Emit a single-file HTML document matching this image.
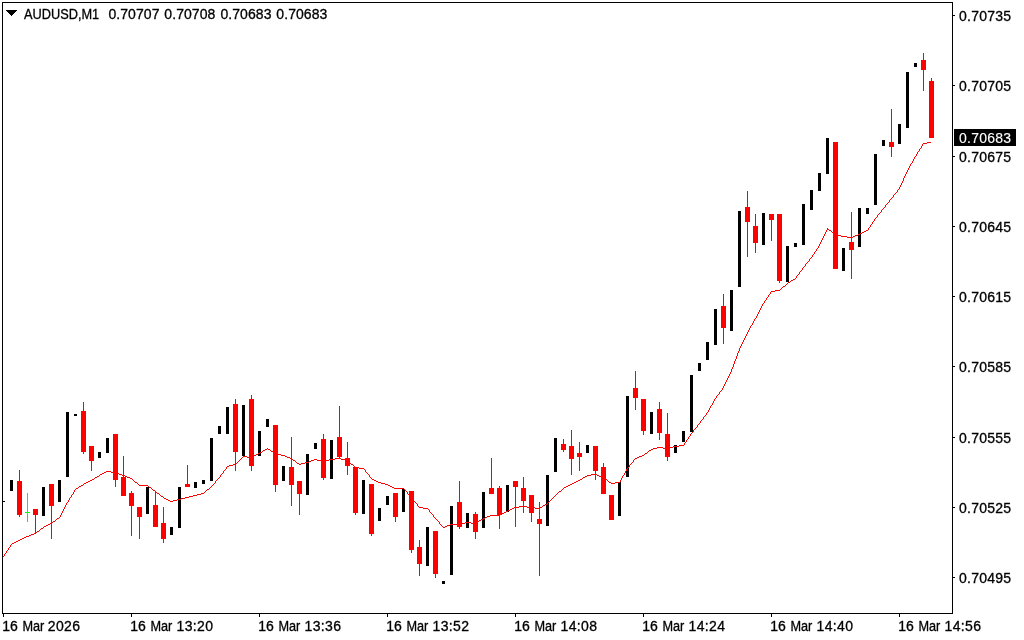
<!DOCTYPE html>
<html lang="en"><head><meta charset="utf-8"><title>AUDUSD,M1</title>
<style>
html,body{margin:0;padding:0;background:#fff;}
body{width:1024px;height:640px;overflow:hidden;position:relative;}
svg{position:absolute;left:0;top:0;display:block;}
text{font-family:"Liberation Sans",sans-serif;font-size:14px;letter-spacing:0px;fill:#000;stroke:#000;stroke-width:0.3px;}
.g{shape-rendering:crispEdges;}
</style></head><body>
<svg width="1024" height="640" viewBox="0 0 1024 640">
<rect x="0" y="0" width="1024" height="640" fill="#fff"/>
<g class="g">
<rect x="10" y="480" width="3" height="11" fill="#000"/>
<rect x="19" y="470" width="1" height="47" fill="#f00"/>
<rect x="17" y="481" width="5" height="34" fill="#f00"/>
<rect x="35" y="509" width="1" height="24" fill="#f00"/>
<rect x="33" y="509" width="5" height="6" fill="#f00"/>
<rect x="42" y="487" width="3" height="29" fill="#000"/>
<rect x="51" y="484" width="1" height="55" fill="#f00"/>
<rect x="49" y="484" width="5" height="22" fill="#f00"/>
<rect x="58" y="480" width="3" height="22" fill="#000"/>
<rect x="66" y="412" width="3" height="65" fill="#000"/>
<rect x="74" y="414" width="3" height="2" fill="#000"/>
<rect x="83" y="402" width="1" height="52" fill="#f00"/>
<rect x="81" y="411" width="5" height="41" fill="#f00"/>
<rect x="91" y="446" width="1" height="25" fill="#f00"/>
<rect x="89" y="446" width="5" height="15" fill="#f00"/>
<rect x="98" y="452" width="3" height="6" fill="#000"/>
<rect x="106" y="438" width="3" height="15" fill="#000"/>
<rect x="115" y="434" width="1" height="53" fill="#f00"/>
<rect x="113" y="434" width="5" height="46" fill="#f00"/>
<rect x="123" y="456" width="1" height="40" fill="#f00"/>
<rect x="121" y="477" width="5" height="19" fill="#f00"/>
<rect x="131" y="491" width="1" height="45" fill="#f00"/>
<rect x="129" y="493" width="5" height="13" fill="#f00"/>
<rect x="139" y="507" width="1" height="32" fill="#f00"/>
<rect x="137" y="507" width="5" height="10" fill="#f00"/>
<rect x="146" y="487" width="3" height="27" fill="#000"/>
<rect x="155" y="492" width="1" height="35" fill="#f00"/>
<rect x="153" y="505" width="5" height="22" fill="#f00"/>
<rect x="163" y="507" width="1" height="36" fill="#f00"/>
<rect x="161" y="523" width="5" height="16" fill="#f00"/>
<rect x="170" y="527" width="3" height="8" fill="#000"/>
<rect x="178" y="487" width="3" height="41" fill="#000"/>
<rect x="187" y="465" width="1" height="22" fill="#f00"/>
<rect x="185" y="484" width="5" height="3" fill="#f00"/>
<rect x="194" y="482" width="3" height="6" fill="#000"/>
<rect x="202" y="480" width="3" height="4" fill="#000"/>
<rect x="210" y="438" width="3" height="43" fill="#000"/>
<rect x="218" y="426" width="3" height="8" fill="#000"/>
<rect x="226" y="407" width="3" height="27" fill="#000"/>
<rect x="235" y="399" width="1" height="72" fill="#f00"/>
<rect x="233" y="404" width="5" height="48" fill="#f00"/>
<rect x="242" y="405" width="3" height="51" fill="#000"/>
<rect x="251" y="395" width="1" height="76" fill="#f00"/>
<rect x="249" y="399" width="5" height="67" fill="#f00"/>
<rect x="258" y="431" width="3" height="25" fill="#000"/>
<rect x="266" y="419" width="3" height="8" fill="#000"/>
<rect x="275" y="425" width="1" height="67" fill="#f00"/>
<rect x="273" y="425" width="5" height="60" fill="#f00"/>
<rect x="282" y="466" width="3" height="15" fill="#000"/>
<rect x="291" y="437" width="1" height="69" fill="#f00"/>
<rect x="289" y="467" width="5" height="18" fill="#f00"/>
<rect x="299" y="481" width="1" height="34" fill="#f00"/>
<rect x="297" y="481" width="5" height="13" fill="#f00"/>
<rect x="306" y="454" width="3" height="41" fill="#000"/>
<rect x="314" y="443" width="3" height="6" fill="#000"/>
<rect x="323" y="434" width="1" height="46" fill="#f00"/>
<rect x="321" y="439" width="5" height="39" fill="#f00"/>
<rect x="330" y="440" width="3" height="39" fill="#000"/>
<rect x="339" y="406" width="1" height="52" fill="#f00"/>
<rect x="337" y="437" width="5" height="20" fill="#f00"/>
<rect x="347" y="442" width="1" height="33" fill="#f00"/>
<rect x="345" y="458" width="5" height="8" fill="#f00"/>
<rect x="355" y="467" width="1" height="48" fill="#f00"/>
<rect x="353" y="467" width="5" height="46" fill="#f00"/>
<rect x="362" y="480" width="3" height="34" fill="#000"/>
<rect x="371" y="484" width="1" height="52" fill="#f00"/>
<rect x="369" y="484" width="5" height="50" fill="#f00"/>
<rect x="378" y="508" width="3" height="13" fill="#000"/>
<rect x="386" y="496" width="3" height="9" fill="#000"/>
<rect x="395" y="493" width="1" height="29" fill="#f00"/>
<rect x="393" y="493" width="5" height="24" fill="#f00"/>
<rect x="402" y="489" width="3" height="23" fill="#000"/>
<rect x="411" y="491" width="1" height="62" fill="#f00"/>
<rect x="409" y="491" width="5" height="59" fill="#f00"/>
<rect x="419" y="540" width="1" height="36" fill="#f00"/>
<rect x="417" y="547" width="5" height="17" fill="#f00"/>
<rect x="426" y="527" width="3" height="39" fill="#000"/>
<rect x="435" y="531" width="1" height="47" fill="#f00"/>
<rect x="433" y="531" width="5" height="43" fill="#f00"/>
<rect x="442" y="581" width="3" height="3" fill="#000"/>
<rect x="450" y="506" width="3" height="69" fill="#000"/>
<rect x="459" y="481" width="1" height="48" fill="#f00"/>
<rect x="457" y="502" width="5" height="25" fill="#f00"/>
<rect x="466" y="513" width="3" height="15" fill="#000"/>
<rect x="475" y="512" width="1" height="27" fill="#f00"/>
<rect x="473" y="514" width="5" height="18" fill="#f00"/>
<rect x="482" y="492" width="3" height="36" fill="#000"/>
<rect x="491" y="458" width="1" height="36" fill="#f00"/>
<rect x="489" y="488" width="5" height="6" fill="#f00"/>
<rect x="499" y="486" width="1" height="43" fill="#f00"/>
<rect x="497" y="488" width="5" height="27" fill="#f00"/>
<rect x="506" y="485" width="3" height="27" fill="#000"/>
<rect x="515" y="481" width="1" height="46" fill="#f00"/>
<rect x="513" y="481" width="5" height="6" fill="#f00"/>
<rect x="523" y="477" width="1" height="36" fill="#f00"/>
<rect x="521" y="488" width="5" height="13" fill="#f00"/>
<rect x="531" y="495" width="1" height="27" fill="#f00"/>
<rect x="529" y="495" width="5" height="18" fill="#f00"/>
<rect x="539" y="502" width="1" height="74" fill="#f00"/>
<rect x="537" y="519" width="5" height="5" fill="#f00"/>
<rect x="546" y="475" width="3" height="51" fill="#000"/>
<rect x="554" y="438" width="3" height="34" fill="#000"/>
<rect x="563" y="439" width="1" height="13" fill="#f00"/>
<rect x="561" y="444" width="5" height="6" fill="#f00"/>
<rect x="571" y="430" width="1" height="45" fill="#f00"/>
<rect x="569" y="446" width="5" height="13" fill="#f00"/>
<rect x="579" y="442" width="1" height="29" fill="#f00"/>
<rect x="577" y="453" width="5" height="4" fill="#f00"/>
<rect x="586" y="445" width="3" height="8" fill="#000"/>
<rect x="595" y="446" width="1" height="34" fill="#f00"/>
<rect x="593" y="446" width="5" height="25" fill="#f00"/>
<rect x="603" y="463" width="1" height="31" fill="#f00"/>
<rect x="601" y="467" width="5" height="27" fill="#f00"/>
<rect x="611" y="495" width="1" height="25" fill="#f00"/>
<rect x="609" y="495" width="5" height="25" fill="#f00"/>
<rect x="618" y="482" width="3" height="34" fill="#000"/>
<rect x="626" y="396" width="3" height="81" fill="#000"/>
<rect x="635" y="371" width="1" height="39" fill="#f00"/>
<rect x="633" y="388" width="5" height="10" fill="#f00"/>
<rect x="643" y="399" width="1" height="36" fill="#f00"/>
<rect x="641" y="399" width="5" height="32" fill="#f00"/>
<rect x="650" y="412" width="3" height="22" fill="#000"/>
<rect x="659" y="402" width="1" height="38" fill="#f00"/>
<rect x="657" y="409" width="5" height="24" fill="#f00"/>
<rect x="667" y="413" width="1" height="48" fill="#f00"/>
<rect x="665" y="434" width="5" height="23" fill="#f00"/>
<rect x="674" y="445" width="3" height="8" fill="#000"/>
<rect x="682" y="431" width="3" height="11" fill="#000"/>
<rect x="690" y="375" width="3" height="57" fill="#000"/>
<rect x="698" y="363" width="3" height="8" fill="#000"/>
<rect x="706" y="342" width="3" height="18" fill="#000"/>
<rect x="714" y="309" width="3" height="36" fill="#000"/>
<rect x="723" y="294" width="1" height="50" fill="#f00"/>
<rect x="721" y="306" width="5" height="22" fill="#f00"/>
<rect x="730" y="290" width="3" height="41" fill="#000"/>
<rect x="738" y="211" width="3" height="76" fill="#000"/>
<rect x="747" y="191" width="1" height="66" fill="#f00"/>
<rect x="745" y="207" width="5" height="15" fill="#f00"/>
<rect x="755" y="214" width="1" height="39" fill="#f00"/>
<rect x="753" y="226" width="5" height="17" fill="#f00"/>
<rect x="762" y="213" width="3" height="32" fill="#000"/>
<rect x="771" y="214" width="1" height="27" fill="#f00"/>
<rect x="769" y="214" width="5" height="6" fill="#f00"/>
<rect x="779" y="214" width="1" height="69" fill="#f00"/>
<rect x="777" y="214" width="5" height="67" fill="#f00"/>
<rect x="786" y="246" width="3" height="36" fill="#000"/>
<rect x="794" y="243" width="3" height="4" fill="#000"/>
<rect x="802" y="204" width="3" height="41" fill="#000"/>
<rect x="810" y="190" width="3" height="20" fill="#000"/>
<rect x="818" y="173" width="3" height="18" fill="#000"/>
<rect x="826" y="138" width="3" height="36" fill="#000"/>
<rect x="835" y="142" width="1" height="127" fill="#f00"/>
<rect x="833" y="142" width="5" height="127" fill="#f00"/>
<rect x="842" y="248" width="3" height="23" fill="#000"/>
<rect x="851" y="212" width="1" height="67" fill="#f00"/>
<rect x="849" y="242" width="5" height="8" fill="#f00"/>
<rect x="858" y="208" width="3" height="39" fill="#000"/>
<rect x="866" y="208" width="3" height="6" fill="#000"/>
<rect x="874" y="154" width="3" height="51" fill="#000"/>
<rect x="882" y="140" width="3" height="6" fill="#000"/>
<rect x="891" y="109" width="1" height="48" fill="#f00"/>
<rect x="889" y="142" width="5" height="5" fill="#f00"/>
<rect x="898" y="124" width="3" height="20" fill="#000"/>
<rect x="906" y="72" width="3" height="56" fill="#000"/>
<rect x="914" y="63" width="3" height="4" fill="#000"/>
<rect x="923" y="53" width="1" height="38" fill="#f00"/>
<rect x="921" y="60" width="5" height="10" fill="#f00"/>
<rect x="931" y="78" width="1" height="60" fill="#f00"/>
<rect x="929" y="81" width="5" height="57" fill="#f00"/>
<rect x="3" y="501" width="2" height="1" fill="#000"/>
<rect x="27" y="493" width="1" height="29" fill="#0f0"/>
<rect x="25" y="512" width="5" height="1" fill="#0f0"/>
</g>
<path class="g" d="M3 556.5h1M4.5 554v2M5 553.5h1M6.5 551v2M7 550.5h1M8.5 548v2M9 547.5h1M10.5 545v2M11 544.5h1M12 543.5h2M14 542.5h2M16 541.5h2M18 540.5h2M20 539.5h2M22 538.5h2M24 537.5h2M26 536.5h3M29 535.5h2M31 534.5h3M34 533.5h2M36 532.5h1M37 531.5h2M39 530.5h1M40 529.5h1M41 528.5h2M43 527.5h1M44 526.5h2M46 525.5h2M48 524.5h2M50 523.5h2M52 522.5h1M53 521.5h2M55 520.5h1M56 519.5h1M57 518.5h2M59 517.5h1M60.5 515v2M61.5 513v2M62.5 511v2M63.5 509v2M64.5 507v2M65.5 505v2M66.5 503v2M67 502.5h1M68.5 500v2M69.5 498v2M70 497.5h1M71.5 495v2M72 494.5h1M73.5 492v2M74.5 490v2M75 489.5h1M76 488.5h2M78 487.5h1M79 486.5h2M81 485.5h2M83 484.5h1M84 483.5h2M86 482.5h2M88 481.5h2M90 480.5h2M92 479.5h2M94 478.5h1M95 477.5h2M97 476.5h2M99 475.5h1M100 474.5h2M102 473.5h2M104 472.5h2M106 471.5h5M111 472.5h6M117 473.5h2M119 474.5h3M122 475.5h3M125 476.5h2M127 477.5h3M130 478.5h2M132 479.5h1M133 480.5h1M134 481.5h1M135 482.5h2M137 483.5h1M138 484.5h1M139 485.5h9M148 486.5h1M149 487.5h2M151 488.5h1M152 489.5h1M153 490.5h2M155 491.5h1M156 492.5h1M157 493.5h2M159 494.5h1M160 495.5h1M161 496.5h2M163 497.5h1M164 498.5h2M166 499.5h2M168 500.5h2M170 501.5h3M173 500.5h4M177 499.5h4M181 498.5h4M185 497.5h4M189 496.5h4M193 495.5h4M197 494.5h4M201 493.5h3M204 492.5h1M205 491.5h1M206 490.5h1M207 489.5h2M209 488.5h1M210 487.5h1M211 486.5h1M212 485.5h1M213 484.5h1M214 483.5h1M215.5 481v2M216 480.5h1M217 479.5h1M218 478.5h1M219 477.5h1M220.5 475v2M221 474.5h1M222 473.5h1M223.5 471v2M224 470.5h1M225 469.5h1M226.5 467v2M227 466.5h2M229 465.5h4M233 464.5h3M236 463.5h1M237 462.5h1M238 461.5h1M239 460.5h1M240 459.5h1M241 458.5h1M242 457.5h1M243 456.5h4M247 457.5h5M252 456.5h2M254 455.5h2M256 454.5h2M258 453.5h2M260 452.5h2M262 451.5h1M263 450.5h2M265 449.5h2M267 448.5h1M268 449.5h2M270 450.5h1M271 451.5h2M273 452.5h2M275 453.5h2M277 454.5h4M281 455.5h4M285 456.5h2M287 457.5h3M290 458.5h2M292 459.5h1M293 460.5h2M295 461.5h1M296 462.5h1M297 463.5h2M299 464.5h2M301 463.5h4M305 462.5h4M309 461.5h2M311 460.5h3M314 459.5h3M317 460.5h4M321 461.5h4M325 460.5h4M329 459.5h6M335 458.5h6M341 459.5h4M345 460.5h3M348 461.5h1M349 462.5h1M350 463.5h1M351 464.5h2M353 465.5h1M354 466.5h1M355 467.5h4M359 468.5h5M364 469.5h1M365.5 470v2M366 472.5h1M367 473.5h1M368 474.5h1M369.5 475v2M370 477.5h1M371 478.5h1M372 479.5h2M374 480.5h2M376 481.5h2M378 482.5h3M381 483.5h4M385 484.5h3M388 485.5h2M390 486.5h2M392 487.5h2M394 488.5h10M404 489.5h1M405 490.5h1M406 491.5h1M407.5 492v2M408 494.5h1M409 495.5h1M410 496.5h1M411 497.5h1M412 498.5h1M413.5 499v2M414 501.5h1M415 502.5h1M416 503.5h1M417.5 504v2M418 506.5h1M419 507.5h4M423 508.5h5M428 509.5h1M429.5 510v2M430 512.5h1M431 513.5h1M432 514.5h1M433.5 515v2M434 517.5h1M435 518.5h1M436 519.5h1M437 520.5h1M438 521.5h1M439.5 522v2M440 524.5h1M441 525.5h1M442 526.5h1M443 527.5h2M445 526.5h2M447 525.5h3M450 524.5h11M461 523.5h4M465 522.5h6M471 523.5h5M476 522.5h2M478 521.5h1M479 520.5h2M481 519.5h2M483 518.5h2M485 517.5h2M487 516.5h3M490 515.5h10M500 514.5h2M502 513.5h2M504 512.5h2M506 511.5h2M508 510.5h2M510 509.5h2M512 508.5h2M514 507.5h5M519 506.5h8M527 507.5h8M535 508.5h5M540 507.5h2M542 506.5h1M543 505.5h2M545 504.5h2M547 503.5h1M548 502.5h1M549 501.5h1M550 500.5h1M551 499.5h1M552 498.5h1M553 497.5h1M554 496.5h1M555 495.5h1M556 494.5h1M557 493.5h1M558 492.5h1M559 491.5h2M561 490.5h1M562 489.5h1M563 488.5h1M564 487.5h2M566 486.5h2M568 485.5h2M570 484.5h2M572 483.5h2M574 482.5h2M576 481.5h2M578 480.5h2M580 479.5h2M582 478.5h1M583 477.5h2M585 476.5h2M587 475.5h4M591 474.5h6M597 475.5h2M599 476.5h3M602 477.5h2M604 478.5h1M605 479.5h2M607 480.5h1M608 481.5h1M609 482.5h2M611 483.5h4M615 482.5h5M620.5 480v2M621.5 478v2M622.5 476v2M623 475.5h1M624.5 473v2M625.5 471v2M626.5 469v2M627 468.5h1M628 467.5h1M629.5 465v2M630 464.5h1M631 463.5h1M632 462.5h1M633.5 460v2M634 459.5h1M635 458.5h2M637 457.5h2M639 456.5h3M642 455.5h2M644 454.5h1M645 453.5h2M647 452.5h1M648 451.5h1M649 450.5h2M651 449.5h2M653 448.5h4M657 447.5h6M663 448.5h6M669 447.5h4M673 446.5h6M679 445.5h5M684.5 443v2M685 442.5h1M686.5 440v2M687 439.5h1M688.5 437v2M689 436.5h1M690.5 434v2M691 433.5h1M692 432.5h1M693.5 430v2M694 429.5h1M695 428.5h1M696 427.5h1M697.5 425v2M698 424.5h1M699 423.5h1M700.5 421v2M701 420.5h1M702 419.5h1M703.5 417v2M704 416.5h1M705 415.5h1M706.5 413v2M707 412.5h1M708.5 410v2M709.5 408v2M710.5 406v2M711 405.5h1M712.5 403v2M713.5 401v2M714.5 399v2M715 398.5h1M716.5 396v2M717 395.5h1M718 394.5h1M719.5 392v2M720 391.5h1M721 390.5h1M722.5 388v2M723.5 386v2M724.5 384v2M725.5 382v2M726.5 380v2M727.5 378v2M728.5 376v2M729.5 374v2M730.5 372v2M731.5 369v3M732.5 367v2M733.5 364v3M734.5 361v3M735.5 359v2M736.5 356v3M737.5 353v3M738.5 351v2M739.5 348v3M740.5 346v2M741.5 344v2M742.5 342v2M743.5 340v2M744.5 338v2M745.5 336v2M746.5 334v2M747.5 332v2M748.5 330v2M749.5 328v2M750.5 326v2M751 325.5h1M752.5 323v2M753.5 321v2M754.5 319v2M755 318.5h1M756.5 316v2M757.5 314v2M758.5 312v2M759.5 310v2M760.5 308v2M761.5 306v2M762.5 304v2M763 303.5h1M764.5 301v2M765 300.5h1M766.5 298v2M767 297.5h1M768.5 295v2M769 294.5h1M770.5 292v2M771 291.5h4M775 290.5h5M780 289.5h1M781 288.5h1M782 287.5h1M783 286.5h2M785 285.5h1M786 284.5h1M787 283.5h1M788 282.5h2M790 281.5h1M791 280.5h2M793 279.5h2M795 278.5h1M796.5 276v2M797 275.5h1M798 274.5h1M799.5 272v2M800 271.5h1M801 270.5h1M802.5 268v2M803 267.5h1M804 266.5h1M805.5 264v2M806 263.5h1M807 262.5h1M808 261.5h1M809.5 259v2M810 258.5h1M811 257.5h1M812.5 255v2M813 254.5h1M814.5 252v2M815 251.5h1M816.5 249v2M817 248.5h1M818.5 246v2M819.5 244v2M820.5 242v2M821.5 240v2M822.5 238v2M823.5 236v2M824.5 234v2M825.5 232v2M826.5 230v2M827.5 228v2M828 229.5h1M829 230.5h2M831 231.5h1M832 232.5h1M833 233.5h2M835 234.5h2M837 235.5h4M841 236.5h6M847 237.5h6M853 236.5h2M855 235.5h3M858 234.5h2M860 233.5h2M862 232.5h2M864 231.5h2M866 230.5h2M868.5 228v2M869 227.5h1M870.5 225v2M871 224.5h1M872.5 222v2M873 221.5h1M874.5 219v2M875 218.5h1M876 217.5h1M877.5 215v2M878 214.5h1M879 213.5h1M880 212.5h1M881.5 210v2M882 209.5h1M883 208.5h1M884 207.5h1M885.5 205v2M886 204.5h1M887 203.5h1M888 202.5h1M889.5 200v2M890 199.5h1M891 198.5h1M892 197.5h1M893.5 195v2M894 194.5h1M895 193.5h1M896 192.5h1M897.5 190v2M898 189.5h1M899.5 187v2M900.5 185v2M901.5 183v2M902.5 181v2M903.5 178v3M904.5 176v2M905.5 174v2M906.5 172v2M907.5 170v2M908.5 168v2M909.5 166v2M910.5 164v2M911 163.5h1M912.5 161v2M913.5 159v2M914.5 157v2M915 156.5h1M916.5 154v2M917.5 152v2M918 151.5h1M919.5 149v2M920 148.5h1M921.5 146v2M922.5 144v2M923 143.5h4M927 142.5h4" fill="none" stroke="#f00" stroke-width="1"/>
<g class="g" fill="#000">
<rect x="2" y="2" width="951" height="1"/>
<rect x="2" y="2" width="1" height="612"/>
<rect x="952" y="2" width="1" height="612"/>
<rect x="2" y="613" width="951" height="1"/>
<rect x="953" y="15" width="2" height="1"/>
<rect x="953" y="85" width="2" height="1"/>
<rect x="953" y="156" width="2" height="1"/>
<rect x="953" y="226" width="2" height="1"/>
<rect x="953" y="296" width="2" height="1"/>
<rect x="953" y="366" width="2" height="1"/>
<rect x="953" y="437" width="2" height="1"/>
<rect x="953" y="507" width="2" height="1"/>
<rect x="953" y="577" width="2" height="1"/>
<rect x="3" y="614" width="1" height="3"/>
<rect x="131" y="614" width="1" height="3"/>
<rect x="259" y="614" width="1" height="3"/>
<rect x="387" y="614" width="1" height="3"/>
<rect x="515" y="614" width="1" height="3"/>
<rect x="643" y="614" width="1" height="3"/>
<rect x="771" y="614" width="1" height="3"/>
<rect x="899" y="614" width="1" height="3"/>
<rect x="954" y="129" width="62" height="17"/>
<rect x="6" y="10" width="11" height="1"/>
<rect x="7" y="11" width="9" height="1"/>
<rect x="8" y="12" width="7" height="1"/>
<rect x="9" y="13" width="5" height="1"/>
<rect x="10" y="14" width="3" height="1"/>
<rect x="11" y="15" width="1" height="1"/>
</g>
<text x="959" y="21" style="letter-spacing:0.25px">0.70735</text>
<text x="959" y="91" style="letter-spacing:0.25px">0.70705</text>
<text x="959" y="162" style="letter-spacing:0.25px">0.70675</text>
<text x="959" y="232" style="letter-spacing:0.25px">0.70645</text>
<text x="959" y="302" style="letter-spacing:0.25px">0.70615</text>
<text x="959" y="372" style="letter-spacing:0.25px">0.70585</text>
<text x="959" y="443" style="letter-spacing:0.25px">0.70555</text>
<text x="959" y="513" style="letter-spacing:0.25px">0.70525</text>
<text x="959" y="583" style="letter-spacing:0.25px">0.70495</text>
<text x="959" y="143" style="fill:#fff;stroke:#fff;stroke-width:0.12px;letter-spacing:0.25px">0.70683</text>
<text y="631"><tspan x="2.3">16</tspan> <tspan x="22.4" textLength="21.9" lengthAdjust="spacingAndGlyphs">Mar</tspan> <tspan x="47.75" style="letter-spacing:0.35px">2026</tspan></text>
<text y="631"><tspan x="130.3">16</tspan> <tspan x="150.4" textLength="21.9" lengthAdjust="spacingAndGlyphs">Mar</tspan> <tspan x="176.6" style="letter-spacing:0.35px">13:20</tspan></text>
<text y="631"><tspan x="258.3">16</tspan> <tspan x="278.4" textLength="21.9" lengthAdjust="spacingAndGlyphs">Mar</tspan> <tspan x="304.6" style="letter-spacing:0.35px">13:36</tspan></text>
<text y="631"><tspan x="386.3">16</tspan> <tspan x="406.4" textLength="21.9" lengthAdjust="spacingAndGlyphs">Mar</tspan> <tspan x="432.6" style="letter-spacing:0.35px">13:52</tspan></text>
<text y="631"><tspan x="514.3">16</tspan> <tspan x="534.4" textLength="21.9" lengthAdjust="spacingAndGlyphs">Mar</tspan> <tspan x="560.6" style="letter-spacing:0.35px">14:08</tspan></text>
<text y="631"><tspan x="642.3">16</tspan> <tspan x="662.4" textLength="21.9" lengthAdjust="spacingAndGlyphs">Mar</tspan> <tspan x="688.6" style="letter-spacing:0.35px">14:24</tspan></text>
<text y="631"><tspan x="770.3">16</tspan> <tspan x="790.4" textLength="21.9" lengthAdjust="spacingAndGlyphs">Mar</tspan> <tspan x="816.6" style="letter-spacing:0.35px">14:40</tspan></text>
<text y="631"><tspan x="898.3">16</tspan> <tspan x="918.4" textLength="21.9" lengthAdjust="spacingAndGlyphs">Mar</tspan> <tspan x="944.6" style="letter-spacing:0.35px">14:56</tspan></text>
<text y="19"><tspan x="24" textLength="75.2" lengthAdjust="spacingAndGlyphs">AUDUSD,M1</tspan>  <tspan x="108.4" style="letter-spacing:0.08px">0.70707</tspan> <tspan x="164.3" style="letter-spacing:0.08px">0.70708</tspan> <tspan x="220.4" style="letter-spacing:0.08px">0.70683</tspan> <tspan x="276.3" style="letter-spacing:0.08px">0.70683</tspan></text>
</svg>
</body></html>
